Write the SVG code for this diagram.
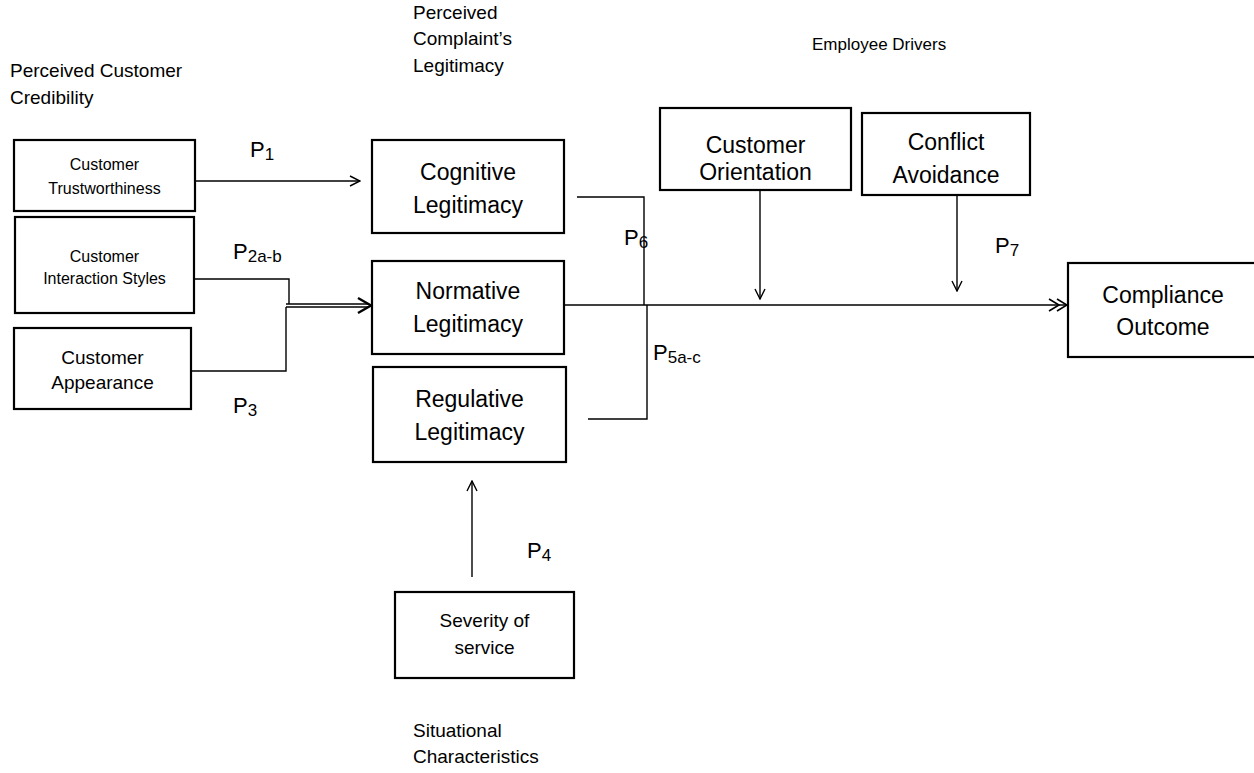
<svg xmlns="http://www.w3.org/2000/svg" width="1254" height="773" viewBox="0 0 1254 773">
<style>
.box{fill:#fff;stroke:#000;stroke-width:2.2}
.t{font-family:"Liberation Sans",Arial,sans-serif;fill:#000;text-anchor:middle}
.h{font-family:"Liberation Sans",Arial,sans-serif;fill:#000;font-size:19px}
.p{font-family:"Liberation Sans",Arial,sans-serif;fill:#000;font-size:22px}
.ln{fill:none;stroke:#000;stroke-width:1.4}
</style>
<defs>
<marker id="v" viewBox="0 0 12 12" refX="11" refY="6" markerWidth="12" markerHeight="12" markerUnits="userSpaceOnUse" orient="auto">
<path d="M1,1 L11,6 L1,11" fill="none" stroke="#000" stroke-width="1.4"/>
</marker>
<marker id="vv" viewBox="0 0 20 14" refX="19" refY="7" markerWidth="20" markerHeight="14" markerUnits="userSpaceOnUse" orient="auto">
<path d="M1,1 L11,7 L1,13 M9,1 L19,7 L9,13" fill="none" stroke="#000" stroke-width="1.6"/>
</marker>
</defs>

<g id="headings">
<text class="h" x="10" y="77">Perceived Customer</text>
<text class="h" x="10" y="104">Credibility</text>
<text class="h" x="413" y="19">Perceived</text>
<text class="h" x="413" y="45">Complaint’s</text>
<text class="h" x="413" y="72">Legitimacy</text>
<text class="h" x="812" y="50" style="font-size:17px">Employee Drivers</text>
<text class="h" x="413" y="737">Situational</text>
<text class="h" x="413" y="763">Characteristics</text>
</g>

<g id="connectors">
<line class="ln" x1="195" y1="181" x2="360" y2="181" marker-end="url(#v)"/>
<path class="ln" d="M194,279 H289 V304"/>
<path class="ln" d="M191,371 H286 V307"/>
<line class="ln" x1="286" y1="304" x2="369" y2="304"/>
<line class="ln" x1="286" y1="307" x2="369" y2="307"/>
<path d="M358,298 L371,305.5 L358,313" fill="none" stroke="#000" stroke-width="2.4"/>
<path class="ln" d="M577,197 H644 V305"/>
<path class="ln" d="M647,305 V419 H588"/>
<line class="ln" x1="564" y1="305" x2="1067" y2="305" marker-end="url(#vv)"/>
<line class="ln" x1="760" y1="191" x2="760" y2="299" marker-end="url(#v)"/>
<line class="ln" x1="957" y1="196" x2="957" y2="291" marker-end="url(#v)"/>
<line class="ln" x1="472" y1="577" x2="472" y2="481" marker-end="url(#v)"/>
</g>

<g id="labels">
<text class="p" x="250" y="157">P<tspan dy="3" style="font-size:17px">1</tspan></text>
<text class="p" x="233" y="259">P<tspan dy="3" style="font-size:17px">2a-b</tspan></text>
<text class="p" x="233" y="413">P<tspan dy="3" style="font-size:17px">3</tspan></text>
<text class="p" x="527" y="558">P<tspan dy="3" style="font-size:17px">4</tspan></text>
<text class="p" x="653" y="360">P<tspan dy="3" style="font-size:17px">5a-c</tspan></text>
<text class="p" x="624" y="245">P<tspan dy="3" style="font-size:17px">6</tspan></text>
<text class="p" x="995" y="253">P<tspan dy="3" style="font-size:17px">7</tspan></text>
</g>

<g id="customer-trustworthiness">
<rect class="box" x="14" y="140" width="181" height="71"/>
<text class="t" x="104.5" y="170" style="font-size:16px">Customer</text>
<text class="t" x="104.5" y="194" style="font-size:16px">Trustworthiness</text>
</g>
<g id="customer-interaction-styles">
<rect class="box" x="15" y="217" width="179" height="96"/>
<text class="t" x="104.5" y="262" style="font-size:16px">Customer</text>
<text class="t" x="104.5" y="284" style="font-size:16px">Interaction Styles</text>
</g>
<g id="customer-appearance">
<rect class="box" x="14" y="328" width="177" height="81"/>
<text class="t" x="102.5" y="364" style="font-size:19px">Customer</text>
<text class="t" x="102.5" y="389" style="font-size:19px">Appearance</text>
</g>
<g id="cognitive-legitimacy">
<rect class="box" x="372" y="140" width="192" height="93"/>
<text class="t" x="468" y="180" style="font-size:23px">Cognitive</text>
<text class="t" x="468" y="213" style="font-size:23px">Legitimacy</text>
</g>
<g id="normative-legitimacy">
<rect class="box" x="372" y="261" width="192" height="93"/>
<text class="t" x="468" y="299" style="font-size:23px">Normative</text>
<text class="t" x="468" y="332" style="font-size:23px">Legitimacy</text>
</g>
<g id="regulative-legitimacy">
<rect class="box" x="373" y="367" width="193" height="95"/>
<text class="t" x="469.5" y="407" style="font-size:23px">Regulative</text>
<text class="t" x="469.5" y="440" style="font-size:23px">Legitimacy</text>
</g>
<g id="customer-orientation">
<rect class="box" x="660" y="108" width="191" height="82"/>
<text class="t" x="755.5" y="153" style="font-size:23px">Customer</text>
<text class="t" x="755.5" y="180" style="font-size:23px">Orientation</text>
</g>
<g id="conflict-avoidance">
<rect class="box" x="862" y="113" width="168" height="82"/>
<text class="t" x="946" y="150" style="font-size:23px">Conflict</text>
<text class="t" x="946" y="183" style="font-size:23px">Avoidance</text>
</g>
<g id="compliance-outcome">
<rect class="box" x="1068" y="263" width="190" height="94"/>
<text class="t" x="1163" y="303" style="font-size:23px">Compliance</text>
<text class="t" x="1163" y="335" style="font-size:23px">Outcome</text>
</g>
<g id="severity-of-service">
<rect class="box" x="395" y="592" width="179" height="86"/>
<text class="t" x="484.5" y="627" style="font-size:19px">Severity of</text>
<text class="t" x="484.5" y="654" style="font-size:19px">service</text>
</g>
</svg>
